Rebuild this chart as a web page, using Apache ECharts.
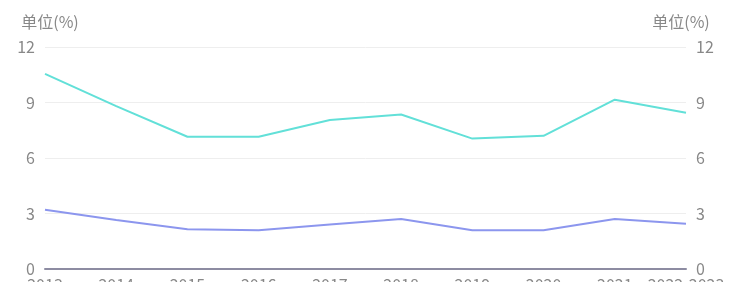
<!DOCTYPE html>
<html><head><meta charset="utf-8">
<script src="https://cdn.jsdelivr.net/npm/echarts@6/dist/echarts.min.js"></script>
<style>html,body{margin:0;padding:0;background:#fff}#c{width:735px;height:282px}</style>
</head><body><div id="c"></div>
<script>
const categories = ['2013','2014','2015','2016','2017','2018','2019','2020','2021','2022-2023'];
const seriesA = [10.55, 8.8, 7.15, 7.15, 8.05, 8.35, 7.05, 7.2, 9.15, 8.45];
const seriesB = [3.2, 2.65, 2.15, 2.1, 2.4, 2.7, 2.1, 2.1, 2.7, 2.45];
const yTicks = {min: 0, max: 12, interval: 3};
const unitName = '单位(%)';

const font = '"Noto Sans CJK SC", "Noto Sans", sans-serif';
const chart = echarts.init(document.getElementById('c'));
const yCommon = {
  type: 'value', min: yTicks.min, max: yTicks.max, interval: yTicks.interval,
  name: unitName, nameGap: 17,
  axisLine: {show: false}, axisTick: {show: false},
  axisLabel: {color: '#888', fontSize: 16, fontFamily: font, margin: 10},
  splitLine: {lineStyle: {color: '#eeeeee', width: 1}}
};
chart.setOption({
  animation: false,
  grid: {left: 45, right: 49, top: 47, bottom: 13, containLabel: false, outerBoundsMode: 'none'},
  xAxis: {
    type: 'category', boundaryGap: false, data: categories,
    axisLine: {lineStyle: {color: '#8d8ca2', width: 2}},
    axisTick: {show: false},
    axisLabel: {color: '#888', fontSize: 16, fontFamily: font, margin: 8, interval: 0}
  },
  yAxis: [
    Object.assign({}, yCommon, {position: 'left',
      nameTextStyle: {color: '#888', fontSize: 16, fontFamily: font, padding: [0, 0, 0, 10]}}),
    Object.assign({}, yCommon, {position: 'right', splitLine: {show: false},
      nameTextStyle: {color: '#888', fontSize: 16, fontFamily: font, padding: [0, 10, 0, 0]}})
  ],
  series: [
    {type: 'line', data: seriesA, yAxisIndex: 0, showSymbol: false,
     lineStyle: {color: '#62e0d8', width: 2}, itemStyle: {color: '#62e0d8'}},
    {type: 'line', data: seriesB, yAxisIndex: 1, showSymbol: false,
     lineStyle: {color: '#8c96ee', width: 2}, itemStyle: {color: '#8c96ee'}}
  ]
});
</script></body></html>
